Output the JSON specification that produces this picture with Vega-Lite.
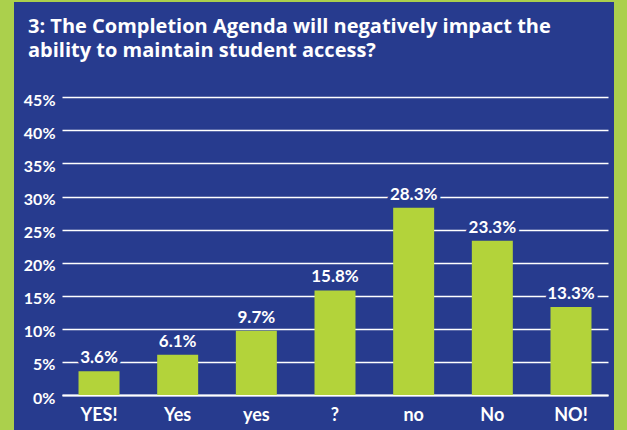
{
  "$schema": "https://vega.github.io/schema/vega-lite/v6.json",
  "width": 600,
  "height": 428,
  "autosize": {"type": "none"},
  "padding": {"left": 14, "right": 13, "top": 2, "bottom": 0},
  "background": "#abd04c",
  "config": {
    "view": {"fill": "#273b8e", "stroke": null},
    "font": "Lato"
  },
  "title": {
    "text": ["3: The Completion Agenda will negatively impact the", "ability to maintain student access?"],
    "anchor": "start",
    "frame": "group",
    "font": "Open Sans",
    "fontSize": 20,
    "fontWeight": "bold",
    "color": "#ffffff",
    "lineHeight": 24,
    "baseline": "alphabetic",
    "dx": 14,
    "dy": 79
  },
  "data": {
    "values": [
      {"answer": "YES!", "share": 0.036},
      {"answer": "Yes", "share": 0.061},
      {"answer": "yes", "share": 0.097},
      {"answer": "?", "share": 0.158},
      {"answer": "no", "share": 0.283},
      {"answer": "No", "share": 0.233},
      {"answer": "NO!", "share": 0.133}
    ]
  },
  "encoding": {
    "x": {
      "field": "answer",
      "type": "nominal",
      "sort": null,
      "scale": {"range": [48, 594], "paddingInner": 0.479, "paddingOuter": 0.21},
      "axis": {
        "title": null,
        "labelAngle": 0,
        "labelColor": "#ffffff",
        "labelFont": "Lato",
        "labelFontSize": 18,
        "labelFontWeight": "bold",
        "labelPadding": 11,
        "ticks": false,
        "tickSize": 0,
        "domainColor": "#ffffff",
        "domainWidth": 2.2,
        "offset": -35,
        "grid": false
      }
    },
    "y": {
      "field": "share",
      "type": "quantitative",
      "scale": {"domain": [0, 0.45], "range": [393, 95.3], "nice": false, "zero": true},
      "axis": {
        "title": null,
        "values": [0, 0.05, 0.1, 0.15, 0.2, 0.25, 0.3, 0.35, 0.4, 0.45],
        "format": ".0%",
        "labelColor": "#ffffff",
        "labelFont": "Lato",
        "labelFontSize": 16,
        "labelFontWeight": "bold",
        "labelPadding": 0,
        "labelOffset": 3,
        "ticks": false,
        "tickSize": 0,
        "domain": false,
        "offset": -41,
        "grid": true,
        "gridColor": "#ffffff",
        "gridWidth": 1.5,
        "gridOpacity": 1
      }
    }
  },
  "layer": [
    {"mark": {"type": "bar", "color": "#b3d33a"}},
    {
      "mark": {"type": "text", "baseline": "alphabetic", "dy": -8, "font": "Lato", "fontSize": 17, "fontWeight": "bold", "fill": "#273b8e", "stroke": "#273b8e", "strokeWidth": 7, "strokeJoin": "round"},
      "encoding": {"text": {"field": "share", "type": "quantitative", "format": ".1%"}}
    },
    {
      "mark": {"type": "text", "baseline": "alphabetic", "dy": -8, "font": "Lato", "fontSize": 17, "fontWeight": "bold", "color": "#ffffff"},
      "encoding": {"text": {"field": "share", "type": "quantitative", "format": ".1%"}}
    }
  ]
}
